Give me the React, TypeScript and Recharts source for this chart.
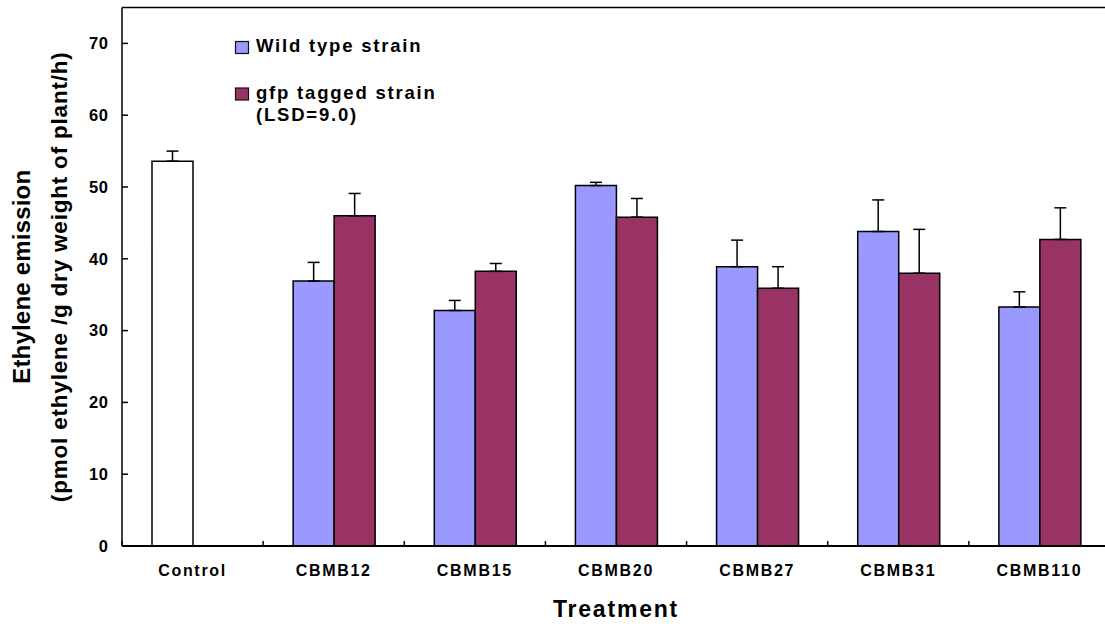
import React from 'react';
import { BarChart, Bar, XAxis, YAxis, ErrorBar, Cell, Legend, ReferenceLine, Label } from 'recharts';

const categories = ['Control', 'CBMB12', 'CBMB15', 'CBMB20', 'CBMB27', 'CBMB31', 'CBMB110'];
const wildType = [53.6, 36.9, 32.8, 50.2, 38.9, 43.8, 33.3];
const wildTypeErr = [1.4, 2.6, 1.4, 0.45, 3.7, 4.4, 2.1];
const gfpTagged: (number | null)[] = [null, 46.0, 38.25, 45.8, 35.9, 38.0, 42.7];
const gfpTaggedErr: (number | null)[] = [null, 3.1, 1.1, 2.6, 3.0, 6.1, 4.4];
const yTicks = [0, 10, 20, 30, 40, 50, 60, 70];
const yMax = 75;
const lsdNote = '(LSD=9.0)';

const data = categories.map((name, i) => ({
  name,
  wild: wildType[i],
  wildErr: [0, wildTypeErr[i]],
  gfp: gfpTagged[i],
  gfpErr: gfpTaggedErr[i] == null ? undefined : [0, gfpTaggedErr[i]],
}));

const FONT = '"Liberation Sans", Arial, Helvetica, sans-serif';
const WILD = '#9999FF';
const GFP = '#993366';

const YTick = (props: any) => {
  const { x, y, payload } = props;
  return (
    <g>
      <line x1={x + 14} x2={x + 20} y1={y} y2={y} stroke="#000" strokeWidth={1.5} />
      <text x={x + 0.5} y={y} dy={5.8} textAnchor="end" fontFamily={FONT} fontWeight="bold" fontSize={16.5} letterSpacing={0.6} fill="#000">
        {payload.value}
      </text>
    </g>
  );
};

const XTick = (props: any) => {
  const { x, y, payload } = props;
  const half = payload && typeof payload.offset === 'number' && payload.offset > 0 ? payload.offset : 70.55;
  return (
    <g>
      <line x1={x - half} x2={x - half} y1={y - 5} y2={y} stroke="#000" strokeWidth={1.5} />
      <text x={x} y={y} dy={29.5} textAnchor="middle" fontFamily={FONT} fontWeight="bold" fontSize={16} letterSpacing={1.7} fill="#000">
        {payload.value}
      </text>
    </g>
  );
};

const YLabel = (props: any) => {
  const vb = props.viewBox || { y: 0, height: 0 };
  const cy = vb.y + vb.height / 2;
  return (
    <g>
      <text x={29.5} y={cy} transform={`rotate(-90 29.5 ${cy})`} textAnchor="middle" fontFamily={FONT} fontWeight="bold" fontSize={24} letterSpacing={0.2} fill="#000">
        Ethylene emission
      </text>
      <text x={66.5} y={cy} transform={`rotate(-90 66.5 ${cy})`} textAnchor="middle" fontFamily={FONT} fontWeight="bold" fontSize={22.5} letterSpacing={0.8} fill="#000">
        (pmol ethylene /g dry weight of plant/h)
      </text>
    </g>
  );
};

const XLabel = (props: any) => {
  const vb = props.viewBox || { x: 0, width: 0, y: 0 };
  const cx = vb.x + vb.width / 2;
  return (
    <text x={cx} y={617} textAnchor="middle" fontFamily={FONT} fontWeight="bold" fontSize={23} letterSpacing={1.8} fill="#000">
      Treatment
    </text>
  );
};

const legendRows = [
  { sq: 41.5, base: 52 },
  { sq: 88, base: 98.5 },
];

const renderLegend = (props: any) => {
  const payload = props.payload || [];
  return (
    <svg width={470} height={130} style={{ display: 'block' }}>
      {payload.map((p: any, i: number) => (
        <g key={i}>
          <rect x={235.5} y={legendRows[i].sq} width={13} height={12} fill={p.color} stroke="#111" strokeWidth={1.2} />
          <text x={256} y={legendRows[i].base} fontFamily={FONT} fontWeight="bold" fontSize={18.5} letterSpacing={1.8} fill="#000">
            {p.value}
          </text>
        </g>
      ))}
      <text x={256} y={120.5} fontFamily={FONT} fontWeight="bold" fontSize={18.5} letterSpacing={1.8} fill="#000">
        {lsdNote}
      </text>
    </svg>
  );
};

export default function App() {
  return (
    <div style={{ position: 'absolute', left: 0, top: 0, width: 1105, height: 624, overflow: 'hidden', background: '#fff' }}>
      <BarChart
        width={1114}
        height={624}
        data={data}
        margin={{ top: 7.5, right: 4, bottom: 38, left: 60 }}
        barGap={0}
        barSize={41}
      >
        <XAxis
          dataKey="name"
          height={40}
          tickLine={false}
          tickSize={0}
          tickMargin={0}
          axisLine={{ stroke: '#000', strokeWidth: 2 }}
          tick={<XTick />}
          interval={0}
        >
          <Label content={<XLabel />} />
        </XAxis>
        <YAxis
          width={62}
          domain={[0, yMax]}
          ticks={yTicks}
          allowDataOverflow
          tickLine={false}
          tickSize={0}
          tickMargin={14}
          axisLine={{ stroke: '#000', strokeWidth: 1.5 }}
          tick={<YTick />}
          interval={0}
        >
          <Label content={<YLabel />} />
        </YAxis>
        <ReferenceLine y={yMax} stroke="#000" strokeWidth={1.5} />
        <Legend
          layout="vertical"
          align="center"
          verticalAlign="middle"
          content={renderLegend}
          wrapperStyle={{ left: 0, top: 0, width: 470, height: 130 }}
        />
        <Bar dataKey="wild" name="Wild type strain" fill={WILD} stroke="#000" strokeWidth={1.5} isAnimationActive={false}>
          {data.map((d, i) => (
            <Cell key={i} fill={i === 0 ? '#FFFFFF' : WILD} />
          ))}
          <ErrorBar dataKey="wildErr" width={6} stroke="#000" strokeWidth={1.5} direction="y" />
        </Bar>
        <Bar dataKey="gfp" name="gfp tagged strain" fill={GFP} stroke="#000" strokeWidth={1.5} isAnimationActive={false}>
          <ErrorBar dataKey="gfpErr" width={6} stroke="#000" strokeWidth={1.5} direction="y" />
        </Bar>
      </BarChart>
    </div>
  );
}
